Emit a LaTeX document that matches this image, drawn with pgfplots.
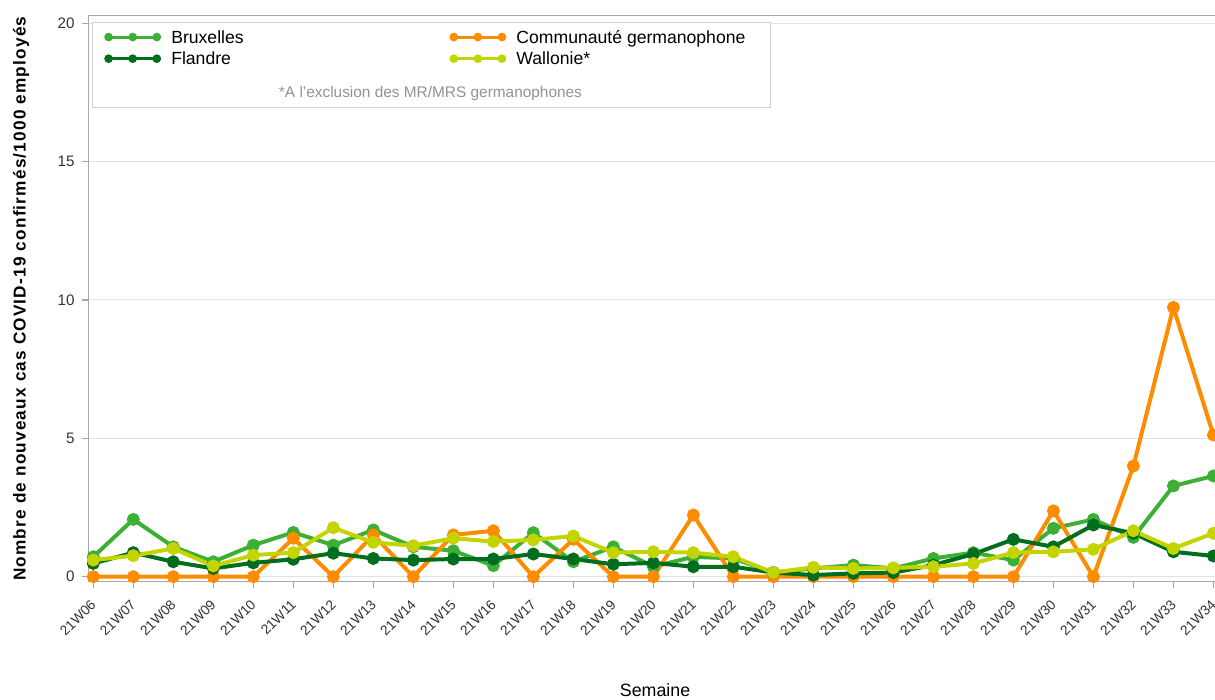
\documentclass[border=0pt]{standalone}
\usepackage{fontspec}
\setmainfont{Liberation Sans}
\newfontfamily\ylabfont[LetterSpace=7]{Liberation Sans}
\usepackage{pgfplots}
\pgfplotsset{compat=1.18}
\definecolor{cBru}{HTML}{3CB034}
\definecolor{cFla}{HTML}{006E1E}
\definecolor{cGer}{HTML}{FF8C00}
\definecolor{cWal}{HTML}{C3D400}
\definecolor{axgray}{HTML}{A8A8A8}
\definecolor{gridgray}{HTML}{E2E2E2}
\definecolor{txt}{HTML}{333333}

\pgfplotstableread{
x Bru Ger Fla Wal
0 0.72 0 0.48 0.60
1 2.07 0 0.87 0.76
2 1.08 0 0.54 1.02
3 0.54 0 0.30 0.39
4 1.14 0 0.50 0.78
5 1.60 1.39 0.63 0.87
6 1.14 0 0.85 1.77
7 1.69 1.51 0.66 1.24
8 1.08 0 0.60 1.12
9 0.94 1.51 0.64 1.39
10 0.40 1.66 0.64 1.27
11 1.59 0 0.82 1.33
12 0.54 1.35 0.64 1.47
13 1.08 0 0.45 0.87
14 0.36 0 0.50 0.90
15 0.72 2.23 0.36 0.87
16 0.66 0 0.36 0.72
17 0.15 0 0.15 0.15
18 0.30 0 0.06 0.34
19 0.42 0 0.12 0.30
20 0.30 0 0.15 0.32
21 0.66 0 0.42 0.36
22 0.87 0 0.82 0.48
23 0.60 0 1.35 0.87
24 1.75 2.38 1.08 0.90
25 2.07 0 1.87 0.99
26 1.42 4.00 1.57 1.66
27 3.28 9.73 0.90 1.02
28 3.64 5.12 0.75 1.57
}\datatable

\begin{document}
\begin{tikzpicture}
\begin{axis}[
  scale only axis,
  width=563.35pt, height=283pt,
  xmin=-0.125, xmax=28.04,
  ymin=-0.18, ymax=20.27,
  axis x line=box, axis y line=left,
  x axis line style={-}, y axis line style={-},
  axis line style={draw=axgray, line width=0.6pt},
  xtick pos=bottom,
  tick align=outside,
  major tick length=3.35pt,
  tick style={draw=axgray, line width=0.6pt},
  xtick={0,...,28},
  xticklabels={21W06,21W07,21W08,21W09,21W10,21W11,21W12,21W13,21W14,21W15,21W16,21W17,21W18,21W19,21W20,21W21,21W22,21W23,21W24,21W25,21W26,21W27,21W28,21W29,21W30,21W31,21W32,21W33,21W34},
  ytick={0,5,10,15,20},
  ymajorgrids,
  grid style={draw=gridgray, line width=0.5pt},
  /pgf/number format/assume math mode=true,
  yticklabel style={font=\fontsize{7.6}{9}\selectfont, text=txt},
  xticklabel style={font=\fontsize{6.9}{8}\selectfont, text=txt, xshift=2.5pt, yshift=-4.5pt, rotate=45, anchor=east},
  ylabel={\ylabfont\bfseries\fontsize{8.6}{10}\selectfont Nombre de nouveaux cas COVID-19 confirmés/1000 employés},
  ylabel style={at={(axis description cs:-0.0597,0.5)}, anchor=center, rotate=0},
  xlabel={Semaine},
  xlabel style={at={(axis description cs:0.503,-0.1913)}, anchor=center, font=\fontsize{8.9}{10}\selectfont, text=black},
  legend columns=2,
  legend cell align=left,
  legend style={draw=none, fill=none, inner sep=0pt, row sep=0pt, column sep=5.15pt,
    at={(axis description cs:0.01393,0.982)}, anchor=north west,
    nodes={inner sep=0pt, text height=8.55pt, text depth=2.25pt},
    font=\fontsize{8.8}{10}\selectfont, text=black},
  legend image code/.code={
    \draw[#1, line width=1.5pt, mark=none] (0pt,0pt) -- (26.3pt,0pt);
    \fill[#1] (1.1pt,0pt) circle (1.1pt) (13.15pt,0pt) circle (1.1pt) (25.2pt,0pt) circle (1.1pt);
  },
  every axis plot/.append style={line width=2pt, mark=*, mark size=2.2pt, mark options={solid}},
]
\draw[draw=gridgray!80!gray, line width=0.6pt, fill=white] (axis description cs:0.0039,0.9876) rectangle (axis description cs:0.6057,0.8375);
\addplot[color=cBru] table[x=x, y=Bru] {\datatable};
\addlegendentry{\makebox[134pt][l]{Bruxelles}}
\addplot[color=cGer] table[x=x, y=Ger] {\datatable};
\addlegendentry{Communauté germanophone}
\addplot[color=cFla] table[x=x, y=Fla] {\datatable};
\addlegendentry{\makebox[134pt][l]{Flandre}}
\addplot[color=cWal] table[x=x, y=Wal] {\datatable};
\addlegendentry{Wallonie*}
\node[anchor=base, font=\fontsize{7.7}{9}\selectfont, text=gray!85] at (axis description cs:0.3037,0.856) {*A l'exclusion des MR/MRS germanophones};
\end{axis}
\pgfresetboundingbox
\path (current axis.south west) ++(-44.15pt,-59.15pt) coordinate (bbsw);
\path (current axis.north east) ++(0pt,7.85pt) coordinate (bbne);
\useasboundingbox (bbsw) rectangle (bbne);
\end{tikzpicture}
\end{document}
